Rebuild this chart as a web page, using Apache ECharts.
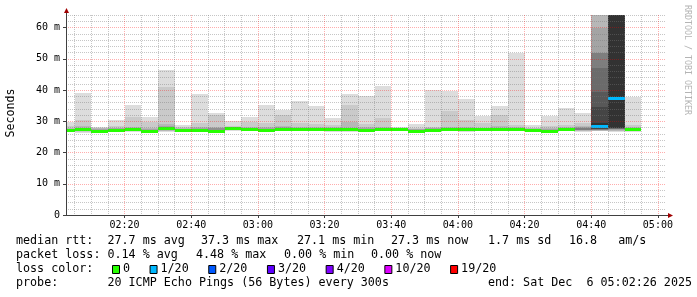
<!DOCTYPE html>
<html><head><meta charset="utf-8">
<script src="https://cdn.jsdelivr.net/npm/echarts@6/dist/echarts.min.js"></script>
<style>html,body{margin:0;padding:0;background:#fff}#c{width:697px;height:297px}</style>
</head><body><div id="c"></div>
<script>
// ---- data ----
const binStartTimes = ['02:00','02:05','02:10','02:15','02:20','02:25','02:30','02:35','02:40','02:45','02:50','02:55',
  '03:00','03:05','03:10','03:15','03:20','03:25','03:30','03:35','03:40','03:45','03:50','03:55',
  '04:00','04:05','04:10','04:15','04:20','04:25','04:30','04:35','04:40','04:45','04:50'];
// smoke band tops (ms), outer band first
const upperPings = [
  [29.9,28.5,27.9,27.6],[39.1,30.3,28.4,28.0],[28.3,27.9,27.7,27.5],[30.4,28.6,28.0,27.7],
  [35.2,31.4,28.2,27.8],[31.5,29.9,28.0,27.5],[46.4,41.1,29.0,28.5],[28.8,28.2,27.9,27.6],
  [38.7,29.5,28.3,27.8],[32.7,32.0,28.3,28.0,27.7],[30.2,28.5,28.2,28.0],[31.5,29.9,28.3,28.0],
  [35.2,29.4,28.2,27.8],[33.6,32.0,28.6,28.2,28.0],[36.5,29.3,28.2,27.9],[35.0,29.1,28.1,27.9],
  [31.1,28.8,28.3,28.0],[38.7,35.2,29.9,28.0],[38.2,29.0,28.2,27.8],[41.4,31.1,28.3,27.9],
  [28.3,28.0,27.9,27.7],[29.1,27.9,27.6,27.4],[40.0,28.3,28.0,27.8,27.6],[39.8,33.4,28.3,27.8],
  [37.1,30.4,28.2,27.8],[31.8,29.5,28.0,27.7],[34.9,32.0,28.5,28.0],[51.7,28.8,28.3,27.9],
  [28.8,28.0,27.8,27.6],[31.8,28.5,28.0,27.6],[34.1,28.8,28.2,27.8],[32.6,29.3,28.4,28.1,27.9,27.8],
  [90,85,66,60,51.7,51.7,46.9,39.5,34.7,29.5],[90,90,90,90,90,90,90,90,90,90],[37.9,28.8,28.2,27.8]
];
// smoke band bottoms (ms), outer band first
const lowerPings = [
  [26.5,26.7,26.9,27.1],[26.4,26.7,27.0,27.2],[26.5,26.6,26.7,26.8],[26.6,26.8,26.9,27.0],
  [26.6,26.8,27.0,27.1],[26.3,26.5,26.7,26.8],[26.5,26.8,27.0,27.3],[26.8,26.9,27.0,27.1],
  [26.6,26.8,27.0,27.1],[26.5,26.6,26.7,26.8,26.8],[27.0,27.2,27.3,27.4],[26.9,27.1,27.2,27.3],
  [26.6,26.8,26.9,27.0],[26.8,27.0,27.1,27.2,27.3],[27.0,27.1,27.2,27.3],[26.9,27.1,27.2,27.3],
  [26.7,26.9,27.0,27.1],[26.6,26.8,27.0,27.1],[26.8,27.0,27.1,27.2],[26.8,27.0,27.1,27.2],
  [26.9,27.0,27.1,27.2],[26.5,26.6,26.7,26.8],[26.7,26.8,26.9,27.0,27.0],[26.8,27.0,27.1,27.2],
  [26.6,26.8,27.0,27.1],[26.8,27.0,27.1,27.2],[26.9,27.1,27.2,27.3],[26.8,27.0,27.1,27.2],
  [26.8,26.9,27.0,27.1],[26.5,26.6,26.7,26.8],[26.8,27.0,27.1,27.2],[26.7,26.9,27.0,27.1,27.2,27.3],
  [26.8,26.9,27.0,27.1,27.2,27.3,27.4,27.5,27.6,27.7],[26.7,26.8,27.0,27.2,27.4,27.5,27.6,27.7,27.7,27.8],[26.7,26.9,27.0,27.1]
];
const medianRtt = [27.3,27.6,27.0,27.3,27.4,27.0,28.0,27.3,27.3,27.0,27.7,27.6,
  27.3,27.6,27.6,27.6,27.4,27.4,27.3,27.5,27.4,27.0,27.2,27.4,
  27.4,27.4,27.6,27.5,27.3,27.0,27.4,null,28.4,37.3,27.4];
const lostPings = [0,0,0,0,0,0,0,0,0,0,0,0, 0,0,0,0,0,0,0,0,0,0,0,0, 0,0,0,0,0,0,0,null,1,1,0];

const xTickLabels = ['02:20','02:40','03:00','03:20','03:40','04:00','04:20','04:40','05:00'];
const yTickValues = [0,10,20,30,40,50,60];
const lossLegendLabels = ['0','1/20','2/20','3/20','4/20','10/20','19/20'];
const lossLegendCounts = [0,1,2,3,4,10,19];
const lossLegendColors = ['#26ff00','#00b8ff','#0059ff','#5e00ff','#7e00ff','#dd00ff','#ff0000'];
const statsLine1 = ['median rtt:  27.7 ms avg','37.3 ms max','27.1 ms min','27.3 ms now','1.7 ms sd','16.8   am/s'];
const statsLine2 = ['packet loss: 0.14 % avg','4.48 % max','0.00 % min','0.00 % now'];
const probeText = 'probe:       20 ICMP Echo Pings (56 Bytes) every 300s';
const endText = 'end: Sat Dec  6 05:02:26 2025';
const endTime = '05:02:26';

// ---- helpers ----
const toMin = s => { const p = s.split(':').map(Number); return p[0]*60 + p[1] + (p[2]||0)/60; };
const X_MAX = toMin(endTime), X_MIN = X_MAX - 180;
const STEP = 5;
const smokeColor = k => { const g = Math.floor(190/10*(10-(k+1)))+50; const h = g.toString(16).padStart(2,'0'); return '#'+h+h+h; };
const lossColor = n => { let c = lossLegendColors[0]; lossLegendCounts.forEach((t,i)=>{ if(n>=t) c = lossLegendColors[i]; }); return c; };
const majorX = xTickLabels.map(toMin);
const minorX = [];
for (let t = Math.ceil(X_MIN/STEP)*STEP; t <= X_MAX; t += STEP) if (majorX.indexOf(t) < 0) minorX.push(t);
const minorY = [];
for (let v = 2; v <= 64; v += 2) if (v % 10) minorY.push(v);
const pad = n => String(n).padStart(2,'0');
const fmtTime = v => pad(Math.floor(Math.round(v)/60)) + ':' + pad(Math.round(v)%60);

const MONO = 'DejaVu Sans Mono';
const MAJOR_GRID = 'rgba(255,0,0,0.32)';
const MINOR_GRID = 'rgba(120,120,120,0.42)';

function renderItem(params, api) {
  const i = api.value(2);
  const t0 = toMin(binStartTimes[i]), t1 = t0 + STEP;
  const cs = params.coordSys;
  const box = {x: cs.x, y: cs.y, width: cs.width, height: cs.height};
  const children = [];
  const addRect = (xa, xb, ya, yb, fill) => {
    const r = echarts.graphic.clipRectByRect({x: xa, y: ya, width: xb - xa, height: yb - ya}, box);
    if (r) children.push({type: 'rect', shape: r, style: {fill: fill}});
  };
  const ups = upperPings[i], lows = lowerPings[i];
  for (let k = 0; k < ups.length; k++) {
    const a = api.coord([t0, ups[k]]), b = api.coord([t1, lows[k]]);
    addRect(Math.round(a[0]), Math.round(b[0]), Math.round(a[1]), Math.round(b[1]), smokeColor(k));
  }
  if (medianRtt[i] != null) {
    const a = api.coord([t0, medianRtt[i]]), b = api.coord([t1, medianRtt[i]]);
    const yc = Math.round(a[1]);
    addRect(Math.round(a[0]), Math.round(b[0]), yc - 1, yc + 2, lossColor(lostPings[i]));
  }
  return {type: 'group', children: children};
}

const chart = echarts.init(document.getElementById('c'), null, {renderer: 'canvas'});

const graphics = [];
// y-axis title
graphics.push({type:'text', x: 11, y: 113, rotation: Math.PI/2,
  style:{text:'Seconds', fontFamily: MONO, fontSize: 11.6, fill:'#000', align:'center', verticalAlign:'middle'}});
// watermark
graphics.push({type:'text', x: 687, y: 5, rotation: -Math.PI/2,
  style:{text:'RRDTOOL / TOBI OETIKER', fontFamily: MONO, fontSize: 8.3, fill:'#b4b4b4', align:'left', verticalAlign:'middle'}});
// axis arrows
graphics.push({type:'line', shape:{x1:66.5, y1:15, x2:66.5, y2:12}, style:{stroke:'#404040', lineWidth:1}});
graphics.push({type:'polygon', shape:{points:[[64,13],[69,13],[66.5,8]]}, style:{fill:'#a00000'}});
graphics.push({type:'line', shape:{x1:666, y1:215.5, x2:670, y2:215.5}, style:{stroke:'#404040', lineWidth:1}});
graphics.push({type:'polygon', shape:{points:[[668,213],[668,218],[673,215.5]]}, style:{fill:'#a00000'}});
// legend text
const textStyle = (t, x, y, align) => ({type:'text', x: x, y: y,
  style:{text:t, fontFamily: MONO, fontSize: 11.7, fill:'#000', align: align||'left', verticalAlign:'middle'}});
const line1X = [16, 201, 297, 391, 488, 569];
statsLine1.forEach((t,i)=>graphics.push(textStyle(t, line1X[i], 241)));
const line2X = [16, 196, 284, 371];
statsLine2.forEach((t,i)=>graphics.push(textStyle(t, line2X[i], 255)));
graphics.push(textStyle('loss color:', 16, 269));
let bx = 112;
lossLegendLabels.forEach((lab, i) => {
  graphics.push({type:'rect', shape:{x: bx + 0.5, y: 265.5, width: 7, height: 8},
    style:{fill: lossLegendColors[i], stroke:'#000', lineWidth:1}});
  graphics.push(textStyle(lab, bx + 11, 269));
  bx += 11 + lab.length * 7.05 + 19.5;
});
graphics.push(textStyle(probeText, 16, 283));
graphics.push(textStyle(endText, 692, 283, 'right'));

chart.setOption({
  animation: false,
  backgroundColor: '#fff',
  grid: {left: 66, right: 31, top: 15, bottom: 82, containLabel: false},
  xAxis: [
    {type:'value', min: X_MIN, max: X_MAX, position:'bottom', z: 3,
      axisLine:{show:true, onZero:false, lineStyle:{color:'#404040', width:1}},
      axisTick:{show:true, customValues: majorX, length: 3, lineStyle:{color:'#404040'}},
      axisLabel:{customValues: majorX, formatter: v => fmtTime(v), fontFamily: MONO, fontSize: 10, color:'#000', margin: 5},
      splitLine:{show:true, lineStyle:{color: MAJOR_GRID, width:1, type:[1,1]}}},
    {type:'value', min: X_MIN, max: X_MAX, position:'top', z: 3,
      axisLine:{show:false}, axisTick:{show:false, customValues: minorX}, axisLabel:{show:false},
      splitLine:{show:true, lineStyle:{color: MINOR_GRID, width:1, type:[1,1]}}}
  ],
  yAxis: [
    {type:'value', min: 0, max: 64, position:'left', z: 3,
      axisLine:{show:true, onZero:false, lineStyle:{color:'#404040', width:1}},
      axisTick:{show:true, customValues: yTickValues, length: 3, lineStyle:{color:'#404040'}},
      axisLabel:{customValues: yTickValues, formatter: v => v === 0 ? '0' : v + ' m', fontFamily: MONO, fontSize: 10, color:'#000', margin: 6},
      splitLine:{show:true, lineStyle:{color: MAJOR_GRID, width:1, type:[1,1]}}},
    {type:'value', min: 0, max: 64, position:'right', z: 3,
      axisLine:{show:false}, axisTick:{show:false, customValues: minorY}, axisLabel:{show:false},
      splitLine:{show:true, lineStyle:{color: MINOR_GRID, width:1, type:[1,1]}}}
  ],
  series: [{
    type:'custom', xAxisIndex:0, yAxisIndex:0, z: 2,
    renderItem: renderItem,
    encode:{x:0, y:1},
    data: binStartTimes.map((s,i) => [toMin(s) + STEP/2, medianRtt[i] == null ? 27 : medianRtt[i], i])
  }],
  graphic: graphics
});
</script>
</body></html>
